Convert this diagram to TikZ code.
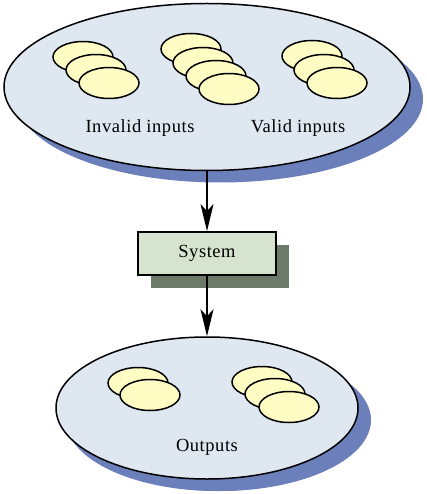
\documentclass[tikz,border=0pt]{standalone}
\usepackage{fontspec}
\setmainfont{Liberation Serif}[LetterSpace=3]
\usetikzlibrary{shapes.geometric,shadows,arrows.meta,positioning}
\definecolor{platefill}{HTML}{DFE8F1}
\definecolor{plateshadow}{HTML}{6B7FBA}
\definecolor{discfill}{HTML}{FFFDC4}
\definecolor{boxfill}{HTML}{D6E3CE}
\definecolor{boxshadow}{HTML}{6C7A69}
\tikzset{
  plate/.style={ellipse,draw,line width=1.5pt,fill=platefill,inner sep=0pt,
    drop shadow={shadow xshift=13pt,shadow yshift=-12pt,fill=plateshadow,opacity=1}},
  disc/.style={ellipse,draw,line width=1.5pt,fill=discfill,inner sep=0pt,
    minimum width=60pt,minimum height=31pt},
  sysbox/.style={rectangle,draw,line width=1.8pt,fill=boxfill,inner sep=0pt,
    minimum width=138pt,minimum height=43pt,
    drop shadow={shadow xshift=13pt,shadow yshift=-13pt,fill=boxshadow,opacity=1}},
  lbl/.style={font=\fontsize{18.5}{22}\selectfont,inner sep=0pt},
  >={Stealth[length=27pt,width=13pt,inset=7pt]}
}
\begin{document}
\begin{tikzpicture}[x=1pt,y=-1pt]
  \useasboundingbox (0,0) rectangle (426,494);
  % inputs
  \node[plate,minimum width=406pt,minimum height=167pt] (in) at (207,87) {};
  \foreach \x/\y [count=\i] in {83/57,96/70,109/83}
    \node[disc] (inv\i) at (\x,\y) {};
  \foreach \x/\y [count=\i] in {191/49,203/63,216/76,229/89}
    \node[disc] (mid\i) at (\x,\y) {};
  \foreach \x/\y [count=\i] in {312/56,324/70,337/83}
    \node[disc] (val\i) at (\x,\y) {};
  \node[lbl] (invlbl) at (140,128) {Invalid inputs};
  \node[lbl] (vallbl) at (298,128) {Valid inputs};
  % system
  \node[sysbox] (sys) at (207,253.5) {};
  \node[lbl] (syslbl) at (sys.center) {System};
  % outputs
  \node[plate,minimum width=302pt,minimum height=142pt,
    drop shadow={shadow xshift=10pt,shadow yshift=-12pt,fill=plateshadow,opacity=1}]
    (out) at (207,408) {};
  \foreach \x/\y [count=\i] in {138/383,150/395}
    \node[disc] (oa\i) at (\x,\y) {};
  \foreach \x/\y [count=\i] in {262/382,275/394,289/407}
    \node[disc] (ob\i) at (\x,\y) {};
  \node[lbl] (outlbl) at (207,447) {Outputs};
  % flow
  \draw[->,line width=1.6pt] (in.south) -- (sys.north);
  \draw[->,line width=1.6pt] (sys.south) -- (out.north);
\end{tikzpicture}
\end{document}
